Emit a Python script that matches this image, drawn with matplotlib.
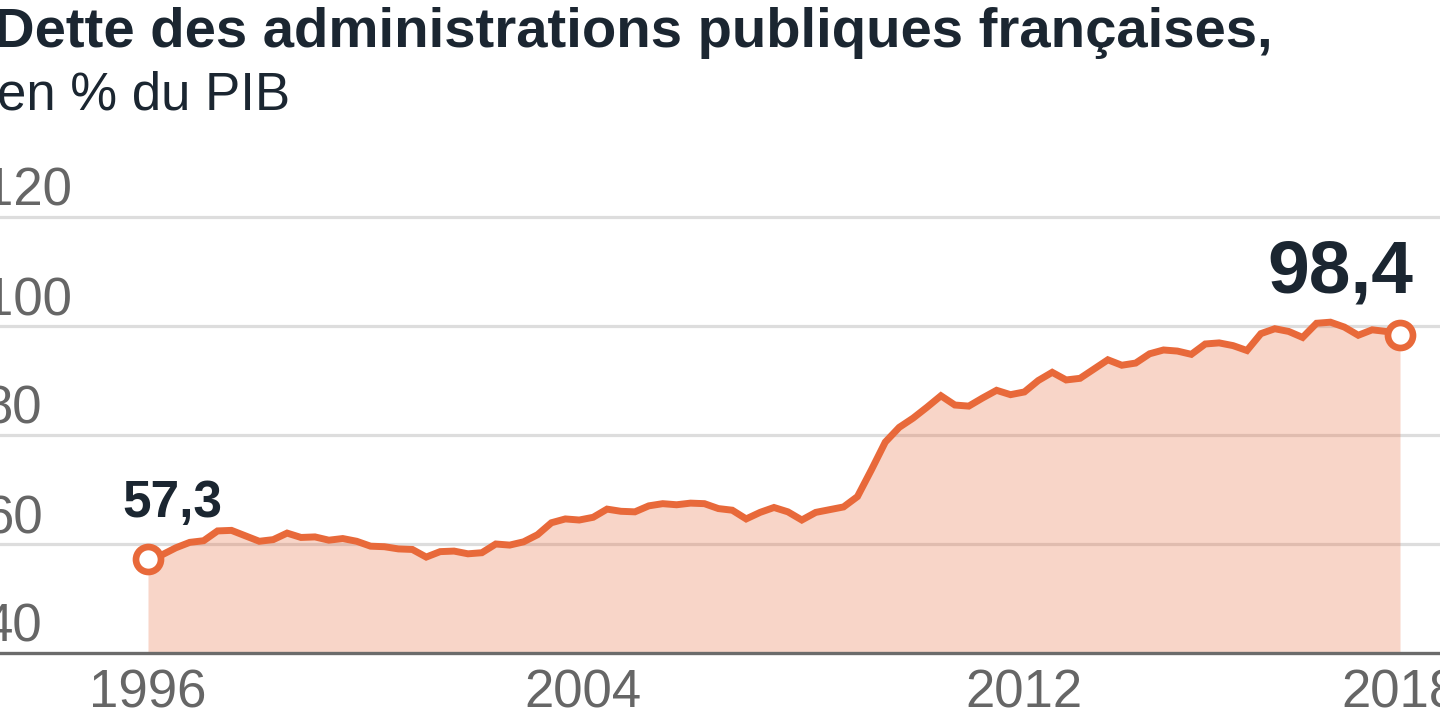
import numpy as np
import matplotlib
matplotlib.use("Agg")
import matplotlib.pyplot as plt
import matplotlib.transforms as mtransforms

# ---- data (quarterly, 1996 -> 2018), % of GDP ----
dette = [57.3, 58.0, 59.3, 60.3, 60.6, 62.4, 62.5, 61.5, 60.5, 60.8,
         62.0, 61.2, 61.3, 60.7, 61.0, 60.5, 59.6, 59.5, 59.1, 59.0,
         57.6, 58.6, 58.7, 58.2, 58.4, 60.0, 59.8, 60.4, 61.7, 63.9,
         64.6, 64.4, 64.9, 66.4, 66.0, 65.9, 67.0, 67.4, 67.2, 67.5,
         67.4, 66.5, 66.2, 64.6, 65.8, 66.7, 65.9, 64.4, 65.8, 66.3,
         66.8, 68.7, 73.6, 78.7, 81.4, 83.1, 85.1, 87.2, 85.5, 85.3,
         86.8, 88.2, 87.4, 87.9, 90.0, 91.5, 90.1, 90.4, 92.1, 93.8,
         92.8, 93.2, 94.9, 95.6, 95.4, 94.8, 96.7, 96.9, 96.4, 95.5,
         98.6, 99.5, 99.0, 97.9, 100.5, 100.7, 99.8, 98.3, 99.3, 99.0,
         98.4]
x_labels = ["1996", "2004", "2012", "2018"]
x_label_pos = [0, 31.3, 63, 90]
y_ticks = [40, 60, 80, 100, 120]
label_first = "57,3"
label_last = "98,4"
title = "Dette des administrations publiques françaises,"
subtitle = "en % du PIB"

ORANGE = "#e8693a"
DARK = "#1b2631"
GREY = "#666666"

plt.rcParams["font.family"] = ["Liberation Sans", "DejaVu Sans"]

W, H = 1440, 720
fig = plt.figure(figsize=(W / 100, H / 100), dpi=100)
fig.patch.set_facecolor("white")

# axes geometry in pixels
y_base_px = 653           # y=40
px_per_unit = 5.45
top_px = 200
ax = fig.add_axes([0, (H - y_base_px) / H, 1, (y_base_px - top_px) / H])
x = np.arange(len(dette))
dx = (1400 - 148) / (len(dette) - 1)
ax.set_xlim(-148 / dx, (len(dette) - 1) + 40 / dx)
ax.set_ylim(40, 40 + (y_base_px - top_px) / px_per_unit)
ax.axis("off")

# grid lines
for v in y_ticks[1:]:
    ax.axhline(v, color="#dddddd", lw=2.3, zorder=1)

# area + line
ax.fill_between(x, dette, 40, color=ORANGE, alpha=0.28, lw=0, zorder=2)
ax.plot(x, dette, color=ORANGE, lw=5.0, solid_joinstyle="miter", zorder=4)
ax.plot([x[0], x[-1]], [dette[0], dette[-1]], ls="none", marker="o",
        markersize=18, markerfacecolor="white", markeredgecolor=ORANGE,
        markeredgewidth=4.8, zorder=5)

# baseline axis
ax.axhline(40, color="#6b6b6b", lw=2.4, zorder=6, clip_on=False)

# y tick labels (inside, above grid lines, left-aligned off the edge)
ytr = mtransforms.offset_copy(ax.get_yaxis_transform(), fig=fig,
                              x=-16, y=11, units="dots")
for v in y_ticks:
    ax.text(0, v, str(v), transform=ytr, ha="left", va="baseline",
            fontsize=38, color=GREY, zorder=7)

# x tick labels
for pos, lab in zip(x_label_pos, x_labels):
    ax.annotate(lab, xy=(pos, 40), xytext=(0, -55), textcoords="offset pixels",
                ha="center", va="baseline", fontsize=38, color=GREY,
                annotation_clip=False)

# value labels
ax.annotate(label_first, xy=(x[0], dette[0]), xytext=(24, 42),
            textcoords="offset pixels", ha="center", va="baseline",
            fontsize=37, fontweight="bold", color=DARK)
ax.annotate(label_last, xy=(x[-1], dette[-1]), xytext=(-60, 42),
            textcoords="offset pixels", ha="center", va="baseline",
            fontsize=54, fontweight="bold", color=DARK)

# title
fig.text(-6 / W, 1 - 47 / H, title, ha="left", va="baseline",
         fontsize=40.5, fontweight="bold", color=DARK)
fig.text(-3 / W, 1 - 110 / H, subtitle, ha="left", va="baseline",
         fontsize=38, color=DARK)

fig.savefig("out.png", dpi=100, facecolor="white")
